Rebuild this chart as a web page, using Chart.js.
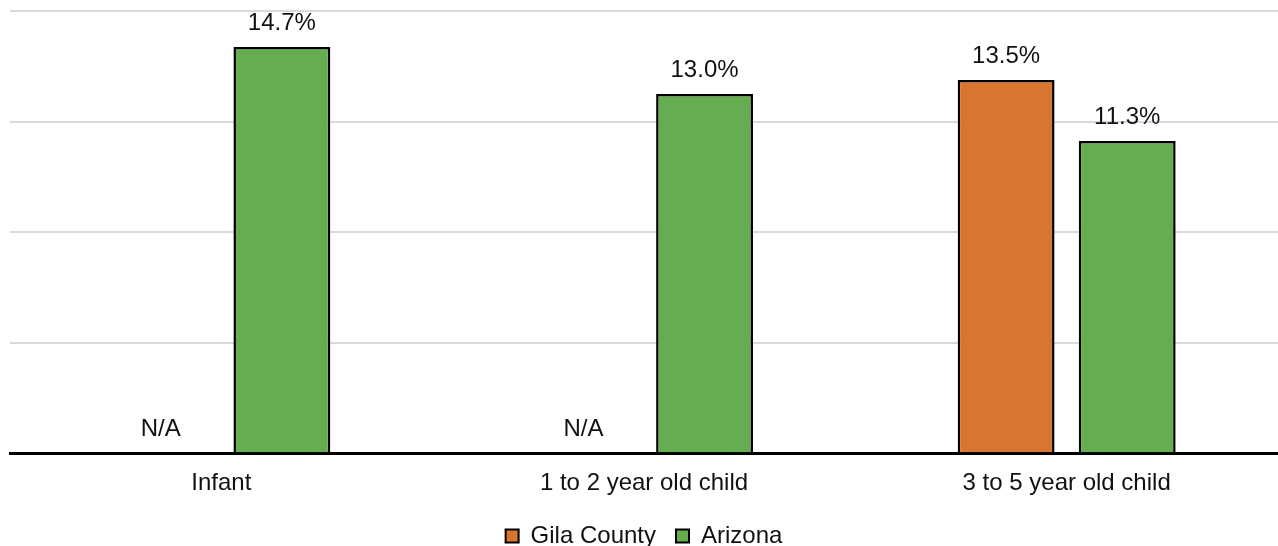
<!DOCTYPE html>
<html>
<head>
<meta charset="utf-8">
<script src="https://cdn.jsdelivr.net/npm/chart.js@4"></script>
<style>
  html, body { margin: 0; padding: 0; background: #fff; }
  #wrap { width: 1278px; height: 546px; }
</style>
</head>
<body>
<div id="wrap"><canvas id="chart"></canvas></div>
<script>
// chart values
const categories = ["Infant", "1 to 2 year old child", "3 to 5 year old child"];
const gilaCounty = [null, null, 13.5];
const arizona = [14.7, 13.0, 11.3];
const seriesNames = ["Gila County", "Arizona"];
const seriesColors = ["#D87630", "#66AD51"];
const yMax = 16;
const yStep = 4;

const FONT = "Arial, 'Liberation Sans', sans-serif";

// draws the value labels above bars, and N/A where there is no value
const valueLabels = {
  id: "valueLabels",
  afterDatasetsDraw(chart) {
    const ctx = chart.ctx;
    const base = chart.scales.y.getPixelForValue(0);
    ctx.save();
    ctx.font = "24px " + FONT;
    ctx.fillStyle = "#111";
    ctx.textAlign = "center";
    ctx.textBaseline = "alphabetic";
    chart.data.datasets.forEach((ds, di) => {
      const meta = chart.getDatasetMeta(di);
      meta.data.forEach((bar, i) => {
        const v = ds.data[i];
        if (v === null) {
          ctx.fillText("N/A", bar.x, base - 17);
        } else {
          ctx.fillText(v.toFixed(1) + "%", bar.x, bar.y - 17);
        }
      });
    });
    ctx.restore();
  }
};

const ctx = document.getElementById("chart").getContext("2d");
new Chart(ctx, {
  type: "bar",
  data: {
    labels: categories,
    datasets: [
      {
        label: seriesNames[0],
        data: gilaCounty,
        backgroundColor: seriesColors[0],
        borderColor: "#000",
        borderWidth: 2.5,
        borderSkipped: "bottom"
      },
      {
        label: seriesNames[1],
        data: arizona,
        backgroundColor: seriesColors[1],
        borderColor: "#000",
        borderWidth: 2.5,
        borderSkipped: "bottom"
      }
    ]
  },
  options: {
    responsive: true,
    maintainAspectRatio: false,
    animation: false,
    categoryPercentage: 0.573,
    barPercentage: 0.8,
    layout: { padding: { top: 11, left: 10, right: 0, bottom: -12 } },
    plugins: {
      legend: {
        position: "bottom",
        labels: {
          font: { family: FONT, size: 24 },
          color: "#111",
          boxWidth: 13,
          boxHeight: 13,
          padding: 20,
          generateLabels(chart) {
            return chart.data.datasets.map((ds, i) => ({
              text: ds.label,
              fillStyle: ds.backgroundColor,
              strokeStyle: "#000",
              lineWidth: 2,
              datasetIndex: i,
              fontColor: "#111"
            }));
          }
        }
      },
      tooltip: { enabled: false }
    },
    scales: {
      x: {
        grid: { display: false },
        border: { color: "#000", width: 3 },
        ticks: {
          font: { family: FONT, size: 24 },
          color: "#111",
          padding: 8
        },
        afterFit(scale) { scale.height -= 2; }
      },
      y: {
        min: 0,
        max: yMax,
        ticks: { stepSize: yStep, display: false },
        grid: { color: "#d9d9d9", lineWidth: 2, drawTicks: false },
        border: { display: false }
      }
    }
  },
  plugins: [valueLabels]
});
</script>
</body>
</html>
